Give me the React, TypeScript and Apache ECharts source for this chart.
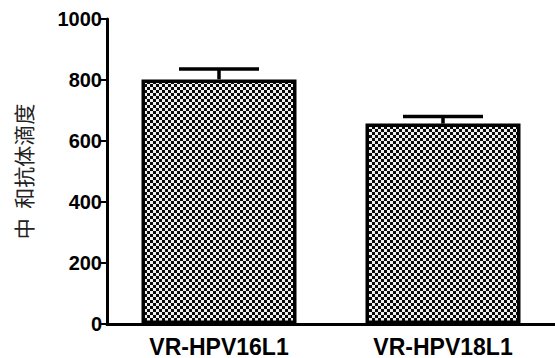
import React, { useEffect, useRef } from "react";
import * as echarts from "echarts";

const categories = ["VR-HPV16L1", "VR-HPV18L1"];
const meanValues = [802, 657];
const errorTops = [836, 680];
const yTicks = [0, 200, 400, 600, 800, 1000];
const yAxisName = "中  和抗体滴度";

function makePattern(): HTMLCanvasElement {
  const c = document.createElement("canvas");
  c.width = 6;
  c.height = 6;
  const ctx = c.getContext("2d")!;
  ctx.fillStyle = "#f0f0f0";
  ctx.fillRect(0, 0, 6, 6);
  ctx.fillStyle = "#0a0a0a";
  ctx.fillRect(0, 0, 3, 3);
  ctx.fillRect(3, 3, 3, 3);
  return c;
}

export default function App() {
  const ref = useRef<HTMLDivElement>(null);
  useEffect(() => {
    if (!ref.current) return;
    const chart = echarts.init(ref.current, undefined, { renderer: "svg" });
    const pat = makePattern();
    chart.setOption({
      animation: false,
      grid: { left: 107, right: -10, top: 19, bottom: 33, containLabel: false },
      xAxis: {
        type: "category",
        data: categories,
        axisLine: { lineStyle: { color: "#000", width: 3 } },
        axisTick: { alignWithLabel: true, length: 8, lineStyle: { color: "#000", width: 2 } },
        axisLabel: {
          color: "#000",
          fontFamily: "Liberation Sans, Arial",
          fontWeight: "bold",
          fontSize: 23,
          margin: 11,
        },
      },
      yAxis: {
        type: "value",
        min: yTicks[0],
        max: yTicks[yTicks.length - 1],
        interval: 200,
        splitLine: { show: false },
        axisLine: { show: true, lineStyle: { color: "#000", width: 3 } },
        axisTick: { show: true, length: 8, lineStyle: { color: "#000", width: 2 } },
        axisLabel: {
          color: "#000",
          fontFamily: "Liberation Sans, Arial",
          fontWeight: "bold",
          fontSize: 20,
          margin: 5,
          formatter: (v: number) => String(v),
        },
        name: yAxisName,
        nameLocation: "middle",
        nameRotate: 90,
        nameGap: 74,
        nameTextStyle: {
          color: "#222",
          fontFamily: "Noto Sans CJK SC",
          fontSize: 21,
        },
      },
      series: [
        {
          type: "bar",
          data: meanValues,
          barWidth: 155,
          itemStyle: {
            color: { image: pat, repeat: "repeat", imageWidth: 6, imageHeight: 6 } as any,
            borderColor: "#000",
            borderWidth: 3.5,
          },
        },
        {
          type: "custom",
          data: categories.map((_, i) => [i, meanValues[i], errorTops[i]]),
          renderItem: (params: any, api: any) => {
            const idx = api.value(0);
            const base = api.coord([idx, api.value(1)]);
            const top = api.coord([idx, api.value(2)]);
            const half = 40;
            const style = { stroke: "#000", lineWidth: 3.5 };
            return {
              type: "group",
              children: [
                { type: "line", shape: { x1: base[0], y1: base[1], x2: top[0], y2: top[1] }, style },
                { type: "line", shape: { x1: top[0] - half, y1: top[1], x2: top[0] + half, y2: top[1] }, style },
              ],
            };
          },
          z: 3,
        },
      ],
    });
    return () => chart.dispose();
  }, []);
  return <div ref={ref} style={{ width: 555, height: 358, position: "absolute", left: 0, top: 0 }} />;
}
